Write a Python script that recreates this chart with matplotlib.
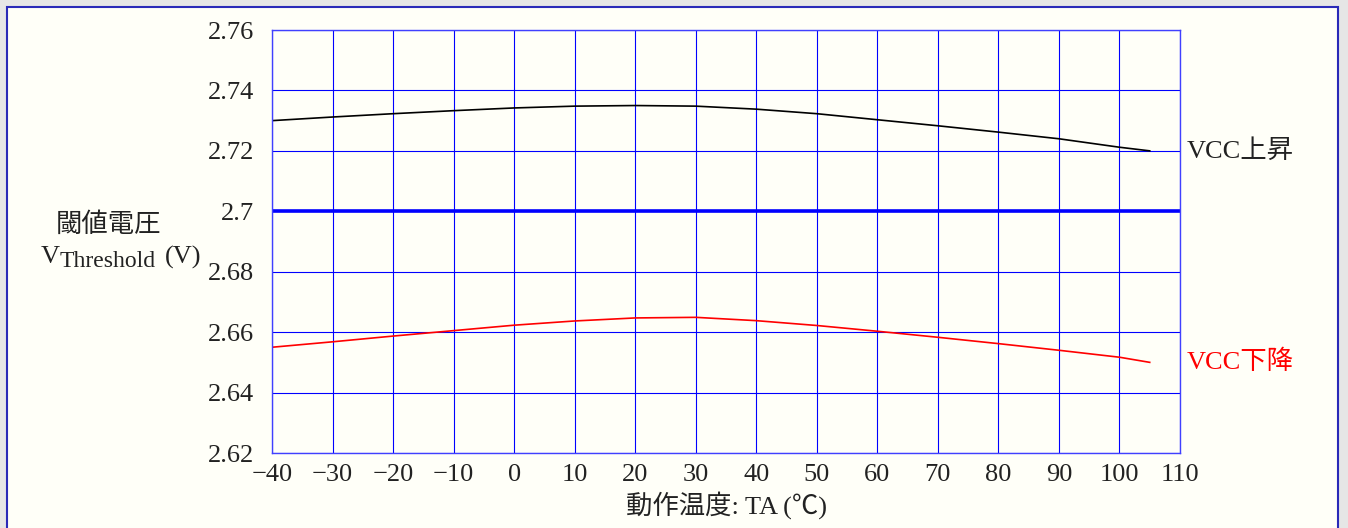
import numpy as np
import matplotlib.pyplot as plt
from matplotlib.patches import Rectangle

plt.rcParams['font.family'] = ['Liberation Serif', 'Noto Sans CJK JP', 'DejaVu Sans']

# data
temp = [-40, -30, -20, -10, 0, 10, 20, 30, 40, 50, 60, 70, 80, 90, 100, 105]
vcc_rise = [2.7300, 2.7312, 2.7323, 2.7333, 2.7342, 2.7348, 2.7350, 2.7348,
            2.7338, 2.7323, 2.7303, 2.7283, 2.7262, 2.7240, 2.7212, 2.7200]
vcc_fall = [2.6550, 2.6568, 2.6587, 2.6605, 2.6623, 2.6637, 2.6647, 2.6649,
            2.6638, 2.6622, 2.6603, 2.6583, 2.6562, 2.6540, 2.6517, 2.6500]
ref_level = 2.70
x_ticks = np.arange(-40, 111, 10)
y_ticks = [2.62, 2.64, 2.66, 2.68, 2.70, 2.72, 2.74, 2.76]
y_tick_labels = ["2.62", "2.64", "2.66", "2.68", "2.7", "2.72", "2.74", "2.76"]

W, H = 1348, 528
fig = plt.figure(figsize=(W / 100, H / 100), dpi=100)
fig.patch.set_facecolor("#e6e6e6")
# cream panel with blue frame
fig.patches.append(Rectangle((7 / W, -0.05), (1338 - 7) / W, 1.05 - 7 / H,
                             transform=fig.transFigure, facecolor="#fffff8",
                             edgecolor="#2a2ab8", linewidth=1.5, zorder=-10))

ax = fig.add_axes([272 / W, 1 - 453 / H, (1180 - 272) / W, (453 - 30) / H])
ax.set_facecolor("#fffff8")
ax.set_xlim(-40, 110)
ax.set_ylim(2.62, 2.76)
ax.set_xticks(x_ticks)
ax.set_xticklabels([str(t).replace("-", "\u2212") for t in x_ticks])
ax.set_yticks(y_ticks)
ax.set_yticklabels(y_tick_labels)
ax.tick_params(length=0, labelsize=19, colors="#222222")
ax.tick_params(axis="y", pad=13)
ax.tick_params(axis="x", pad=8)
ax.grid(True, color="#0000ff", linewidth=0.8)
ax.set_axisbelow(True)
for s in ax.spines.values():
    s.set_color("#4040ff")
    s.set_linewidth(1.0)

ax.axhline(ref_level, color="#0000ff", linewidth=2.6)
ax.plot(temp, vcc_rise, color="black", linewidth=1.2)
ax.plot(temp, vcc_fall, color="#ff0000", linewidth=1.2)

ax.text(1187 / W, 1 - 151 / H, "VCC上昇", transform=fig.transFigure,
        fontsize=19, color="#222222", va="center", ha="left")
ax.text(1187 / W, 1 - 362 / H, "VCC下降", transform=fig.transFigure,
        fontsize=19, color="#ff0000", va="center", ha="left")

fig.text(108 / W, 1 - 225 / H, "閾値電圧", fontsize=19, color="#222222",
         ha="center", va="center")
fig.text(41 / W, 1 - 257 / H, "V", fontsize=19, color="#222222",
         ha="left", va="center")
fig.text(60 / W, 1 - 261 / H, "Threshold", fontsize=17, color="#222222",
         ha="left", va="center")
fig.text(165 / W, 1 - 257 / H, "(V)", fontsize=19, color="#222222",
         ha="left", va="center")

fig.text(726 / W, 1 - 505 / H, "動作温度: TA (℃)", fontsize=19,
         color="#222222", ha="center", va="center")

fig.savefig("out.png", dpi=100, facecolor=fig.get_facecolor())
